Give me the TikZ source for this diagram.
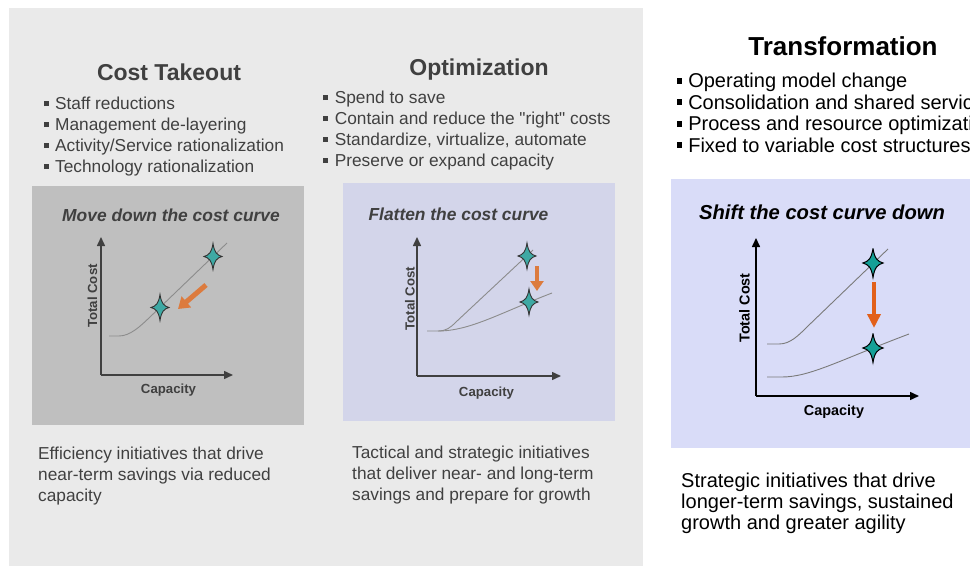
\documentclass[tikz,border=0pt]{standalone}
\usepackage{fontspec}
\setmainfont{Liberation Sans}[Ligatures=TeXOff]
\usetikzlibrary{arrows.meta}
\definecolor{panelbg}{HTML}{EAEAEA}
\definecolor{boxgray}{HTML}{BFBFBF}
\definecolor{boxlav}{HTML}{D3D5EA}
\definecolor{boxlavr}{HTML}{D9DCF8}
\definecolor{dtext}{HTML}{404040}
\definecolor{tealA}{HTML}{3EA9A4}
\definecolor{tealB}{HTML}{14A097}
\definecolor{orgA}{HTML}{DC7B3E}
\definecolor{orgB}{HTML}{E2601A}
\definecolor{curveA}{HTML}{8C8C8C}
\definecolor{curveB}{HTML}{7A7A7A}
\newcommand\mybul[1]{\raisebox{0.22em}{\rule{0.28em}{0.28em}}\hspace{#1}}
\begin{document}
\begin{tikzpicture}[x=1pt,y=-1pt,
  txt/.style={inner sep=0pt, anchor=base west},
  bl/.style={txt, font=\fontsize{17.3}{21}\selectfont, text=dtext},
  br/.style={txt, font=\fontsize{20}{24}\selectfont, text=black},
  ttl/.style={anchor=base, inner sep=0pt, font=\bfseries\fontsize{23}{27}\selectfont, text=dtext},
  ctl/.style={anchor=base, inner sep=0pt, font=\bfseries\itshape\fontsize{17.4}{21}\selectfont, text=dtext},
  axl/.style={inner sep=0pt, font=\bfseries\fontsize{13.2}{16}\selectfont, text=dtext},
  axlr/.style={inner sep=0pt, font=\bfseries\fontsize{14.4}{17}\selectfont, text=black},
  axis/.style={line width=1.5pt, -{Triangle[length=9pt,width=8pt]}},
  cost/.style={line width=0.9pt},
  sparkle/.pic={\path[pic actions] (0,-13) .. controls (1.4,-4) and (4,-1.4) .. (9,0) .. controls (4,1.4) and (1.4,4) .. (0,13) .. controls (-1.4,4) and (-4,1.4) .. (-9,0) .. controls (-4,-1.4) and (-1.4,-4) .. cycle;}
]
\useasboundingbox (0,0) rectangle (970,567);
\fill[white] (0,0) rectangle (970,567);
\fill[panelbg] (9,8) rectangle (643,566);

% ---------- Cost Takeout ----------
\node[ttl] (t1) at (169,81) {Cost Takeout};
\node[bl] (b11) at (43.5,110) {\mybul{0.38em}Staff reductions};
\node[bl] (b12) at (43.5,131) {\mybul{0.38em}Management de-layering};
\node[bl] (b13) at (43.5,152) {\mybul{0.38em}Activity/Service rationalization};
\node[bl] (b14) at (43.5,173) {\mybul{0.38em}Technology rationalization};
\fill[boxgray] (32,186) rectangle (304,425);
\node[ctl] (c1) at (171,222) {Move down the cost curve};
\coordinate (o1) at (101,375);
\coordinate (y1) at (101,237);
\coordinate (x1) at (233,375);
\draw[axis, dtext] (o1) -- (y1);
\draw[axis, dtext] (o1) -- (x1);
\node[axl, anchor=base] (cap1) at (168.5,393) {Capacity};
\node[axl, rotate=90] (tc1) at (92.5,296) {Total Cost};
\draw[cost, curveA] (109,336) -- (119,336) .. controls (130,336) and (140,326.6) .. (150,317) -- (227,243);
\pic[draw=black!80, fill=tealA, line width=0.9pt] at (160,307.5) {sparkle};
\pic[draw=black!80, fill=tealA, line width=0.9pt] at (213,256.5) {sparkle};
\coordinate (a1s) at (206,285);
\coordinate (a1e) at (178,309);
\draw[orgA, line width=5pt, -{Triangle[length=11pt,width=14pt]}] (a1s) -- (a1e);
\node[bl] (d11) at (38,459) {Efficiency initiatives that drive};
\node[bl] (d12) at (38,480) {near-term savings via reduced};
\node[bl] (d13) at (38,501) {capacity};

% ---------- Optimization ----------
\node[ttl] (t2) at (479,76) {Optimization};
\node[bl] (b21) at (322.5,104) {\mybul{0.42em}Spend to save};
\node[bl] (b22) at (322.5,125) {\mybul{0.42em}Contain and reduce the "right" costs};
\node[bl] (b23) at (322.5,146) {\mybul{0.42em}Standardize, virtualize, automate};
\node[bl] (b24) at (322.5,167) {\mybul{0.42em}Preserve or expand capacity};
\fill[boxlav] (343,183) rectangle (615,421);
\node[ctl] (c2) at (458.5,221) {Flatten the cost curve};
\coordinate (o2) at (417,376);
\coordinate (y2) at (417,237);
\coordinate (x2) at (561,376);
\draw[axis, dtext] (o2) -- (y2);
\draw[axis, dtext] (o2) -- (x2);
\node[axl, anchor=base] (cap2) at (486.5,396) {Capacity};
\node[axl, rotate=90] (tc2) at (410,298.5) {Total Cost};
\draw[cost, curveA] (427,331) -- (438,331) .. controls (446,331) and (450,328) .. (456,322) -- (533,250);
\draw[cost, curveA] (438,331) .. controls (470,331) and (500,313) .. (552,293);
\pic[draw=black!80, fill=tealA, line width=0.9pt] at (527,256) {sparkle};
\pic[draw=black!80, fill=tealA, line width=0.9pt] at (529,302) {sparkle};
\coordinate (a2s) at (537,266);
\coordinate (a2e) at (537,291);
\draw[orgA, line width=4.5pt, -{Triangle[length=10pt,width=13pt]}] (a2s) -- (a2e);
\node[bl] (d21) at (352,458) {Tactical and strategic initiatives};
\node[bl] (d22) at (352,479) {that deliver near- and long-term};
\node[bl] (d23) at (352,500) {savings and prepare for growth};

% ---------- Transformation ----------
\node[ttl, text=black, font=\bfseries\fontsize{26}{30}\selectfont] (t3) at (843,56) {Transformation};
\node[br] (b31) at (676.5,88) {\mybul{0.3em}Operating model change};
\node[br] (b32) at (676.5,109.5) {\mybul{0.3em}Consolidation and shared services};
\node[br] (b33) at (676.5,131) {\mybul{0.3em}Process and resource optimization};
\node[br] (b34) at (676.5,152.5) {\mybul{0.3em}Fixed to variable cost structures};
\fill[boxlavr] (671,179) rectangle (975,448);
\node[ctl, text=black, font=\bfseries\itshape\fontsize{20.2}{24}\selectfont] (c3) at (822,219) {Shift the cost curve down};
\coordinate (o3) at (756,396);
\coordinate (y3) at (756,238);
\coordinate (x3) at (919,396);
\draw[axis, black] (o3) -- (y3);
\draw[axis, black] (o3) -- (x3);
\node[axlr, anchor=base] (cap3) at (834,415) {Capacity};
\node[axlr, rotate=90] (tc3) at (744.5,308) {Total Cost};
\draw[cost, curveB] (767,344) -- (779,344) .. controls (790,344) and (798,336) .. (808,326) -- (888,249);
\draw[cost, curveB] (767,377) -- (782,377) .. controls (810,377) and (840,360) .. (909,334);
\pic[draw=black, fill=tealB, line width=1pt, scale=1.12] at (873,263) {sparkle};
\pic[draw=black, fill=tealB, line width=1pt, scale=1.12] at (873,348) {sparkle};
\coordinate (a3s) at (874,282);
\coordinate (a3e) at (874,328);
\draw[orgB, line width=4.5pt, -{Triangle[length=14pt,width=13pt]}] (a3s) -- (a3e);
\node[br] (d31) at (681,487) {Strategic initiatives that drive};
\node[br] (d32) at (681,508) {longer-term savings, sustained};
\node[br] (d33) at (681,529) {growth and greater agility};
\end{tikzpicture}
\end{document}
